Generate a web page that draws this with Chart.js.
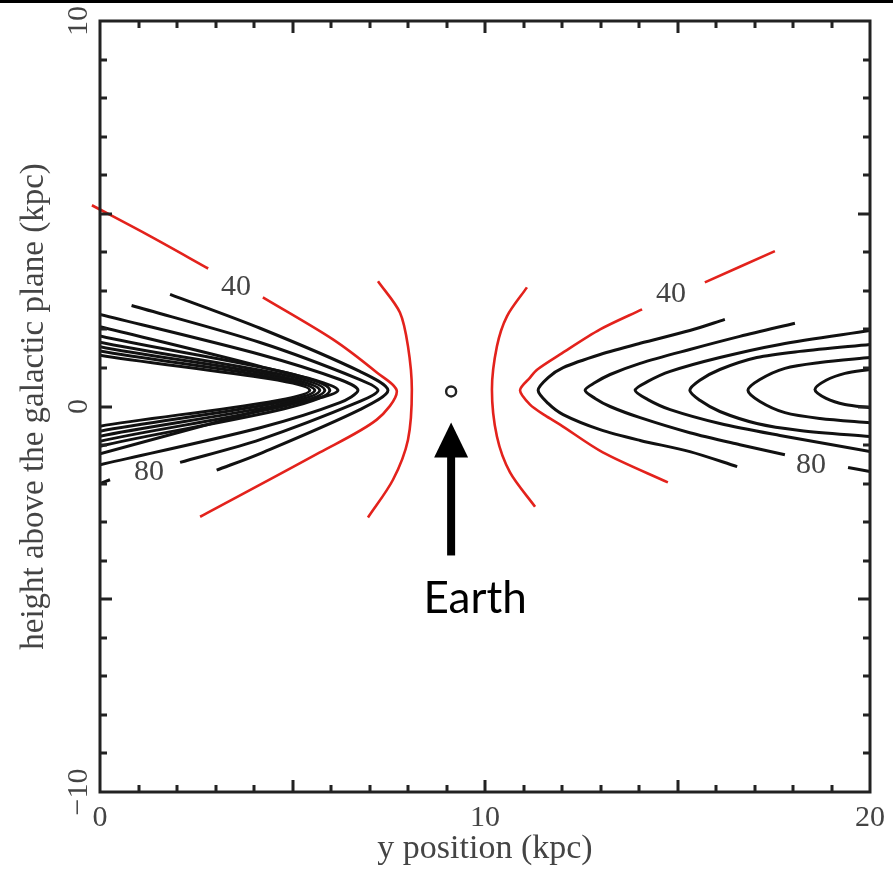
<!DOCTYPE html>
<html>
<head>
<meta charset="utf-8">
<script src="https://cdn.jsdelivr.net/npm/chart.js@4.4.1/dist/chart.umd.min.js"></script>
<style>
  html, body { margin: 0; padding: 0; background: #fff; }
  #wrap { position: relative; width: 893px; height: 869px; }
</style>
</head>
<body>
<div id="wrap"><canvas id="chart"></canvas></div>
<script>
// contours, points are [y position, height] in kpc
// a null is a break in the line where the level label sits

// red (40) contours
const red40Left = [[-0.21, 5.22], [1.30, 4.42], [2.81, 3.58], null, [4.23, 2.83], [6.05, 1.74], [7.19, 0.88],
  [7.71, 0.39], [7.19, -0.34], [5.71, -1.19], [2.60, -2.86]];
const redArcLeft = [[7.22, 3.25], [7.79, 2.44], [8.00, 1.56], [8.10, 0.44], [8.00, -0.86], [7.61, -1.90], [6.96, -2.88]];
const redArcRight = [[11.09, 3.09], [10.57, 2.34], [10.31, 1.56], [10.18, 0.44], [10.31, -0.78], [10.65, -1.71], [11.30, -2.60]];
const red40Right = [[17.53, 4.03], [15.71, 3.22], null, [14.08, 2.52], [12.99, 2.00], [11.95, 1.35], [11.36, 0.96],
  [11.17, 0.75], [10.91, 0.42], [11.17, 0.05], [11.56, -0.23], [11.95, -0.47], [13.06, -1.19], [14.75, -1.97]];

// black contours left of Earth, innermost first
const left1 = [[0, 1.33], [5.45, 0.42], [0, -0.51]];
const left2 = [[0, 1.44], [5.58, 0.42], [0, -0.64]];
const left3 = [[0, 1.55], [5.71, 0.42], [0, -0.77]];
const left4 = [[0, 1.67], [5.84, 0.42], [0, -0.90]];
const left5 = [[0, 1.83], [5.97, 0.42], [0, -1.03]];
const left6 = [[0, 2.07], [4.16, 1.04], [6.18, 0.42], [4.16, -0.10], [0, -1.23]];
const left7 = [[0, 2.39], [4.16, 1.35], [6.23, 0.70], [6.70, 0.42], [6.23, 0.10], [4.16, -0.55], [0, -1.51]];
const left8 = [[0.82, 2.62], [4.16, 1.66], [6.75, 0.70], [7.22, 0.42], [6.75, 0.13], [4.16, -0.86], [2.08, -1.45],
  null, [0.26, -1.90], [0, -2.00]];
const left9 = [[1.82, 2.91], [4.16, 2.03], [6.75, 0.91], [7.48, 0.42], [6.75, -0.08], [4.16, -1.22], [3.03, -1.65]];

// black contours right of Earth, outermost first
const right6 = [[16.23, 2.26], [15.32, 1.97], [14.03, 1.64], [12.99, 1.35], [12.03, 1.01], [11.64, 0.75], [11.38, 0.42],
  [11.64, 0.08], [12.03, -0.21], [12.99, -0.60], [14.03, -0.88], [15.32, -1.17], [16.55, -1.56]];
const right5 = [[18.05, 2.16], [16.62, 1.82], [15.32, 1.48], [14.03, 1.12], [13.25, 0.83], [12.86, 0.62], [12.60, 0.42],
  [12.86, 0.21], [13.25, 0.00], [14.03, -0.29], [15.32, -0.68], [16.62, -0.99], [17.79, -1.25], null,
  [19.43, -1.58], [20, -1.69]];
const right4 = [[20, 1.97], [17.66, 1.61], [16.10, 1.27], [14.81, 0.91], [14.23, 0.65], [13.90, 0.42],
  [14.23, 0.18], [14.81, -0.08], [16.10, -0.44], [17.66, -0.75], [20, -1.17]];
const right3 = [[20, 1.61], [18.18, 1.43], [17.06, 1.27], [16.10, 0.96], [15.58, 0.68], [15.32, 0.42],
  [15.58, 0.16], [16.10, -0.13], [17.06, -0.44], [18.18, -0.62], [20, -0.78]];
const right2 = [[20, 1.27], [18.70, 1.14], [17.79, 0.99], [17.14, 0.70], [16.83, 0.42], [17.14, 0.13],
  [17.79, -0.16], [18.70, -0.31], [20, -0.42]];
const right1 = [[20, 0.96], [19.35, 0.86], [18.86, 0.68], [18.57, 0.44], [18.86, 0.21], [19.35, 0.05], [20, -0.03]];

const earthPos = [9.12, 0.39];

// contour level labels
const levelText = ['40', '80', '40', '80'];
const levelX = [3.53, 1.27, 14.83, 18.47];
const levelY = [3.09, -1.71, 2.91, -1.53];

const yTickValues = [10, 0, -10];

const RED = '#e3221c';
const INK = '#111';
const TEXT = '#444';
const SERIF = '"Liberation Serif", "Times New Roman", serif';

function toPoints(arr) {
  return arr.map(p => p ? { x: p[0], y: p[1] } : { x: 0, y: null });
}

function contour(arr, color, width, extra) {
  return Object.assign({
    data: toPoints(arr),
    showLine: true,
    borderColor: color,
    borderWidth: width,
    pointRadius: 0,
    tension: 0.3,
    spanGaps: false,
    borderJoinStyle: 'round',
    borderCapStyle: 'butt'
  }, extra || {});
}

const blackLines = [left1, left2, left3, left4, left5, left6, left7, left8, left9,
  right1, right2, right3, right4, right5, right6];

const datasets = [
  contour(red40Left, RED, 2.6, { clip: false }),
  contour(redArcLeft, RED, 2.6),
  contour(redArcRight, RED, 2.6),
  contour(red40Right, RED, 2.6)
];
blackLines.forEach(l => datasets.push(contour(l, INK, 3)));
datasets.push({
  data: [{ x: earthPos[0], y: earthPos[1] }],
  showLine: false,
  pointRadius: 5,
  pointBorderWidth: 2.4,
  pointBorderColor: '#222',
  pointBackgroundColor: '#fff'
});

const framePlugin = {
  id: 'frame',
  afterDraw(chart) {
    const ctx = chart.ctx;
    const xs = chart.scales.x, ys = chart.scales.y;
    const { left, right, top, bottom } = chart.chartArea;
    ctx.save();

    // strip across the top of the figure
    ctx.fillStyle = '#000';
    ctx.fillRect(0, 0, chart.width, 3);

    // inward ticks on all four sides
    ctx.strokeStyle = '#222';
    ctx.lineWidth = 3;
    ctx.beginPath();
    for (let v = xs.min + 1; v < xs.max; v++) {
      const px = Math.round(xs.getPixelForValue(v));
      const len = v % 5 === 0 ? 12 : 7;
      ctx.moveTo(px, bottom); ctx.lineTo(px, bottom - len);
      ctx.moveTo(px, top); ctx.lineTo(px, top + len);
    }
    for (let v = ys.min + 1; v < ys.max; v++) {
      const py = Math.round(ys.getPixelForValue(v));
      const len = v % 5 === 0 ? 12 : 7;
      ctx.moveTo(left, py); ctx.lineTo(left + len, py);
      ctx.moveTo(right, py); ctx.lineTo(right - len, py);
    }
    ctx.stroke();
    ctx.strokeRect(left, top, right - left, bottom - top);

    // rotated y tick labels
    ctx.fillStyle = TEXT;
    ctx.font = '30px ' + SERIF;
    ctx.textAlign = 'center';
    ctx.textBaseline = 'middle';
    yTickValues.forEach(v => {
      ctx.save();
      ctx.translate(79, ys.getPixelForValue(v));
      ctx.rotate(-Math.PI / 2);
      ctx.fillText(v < 0 ? '\u2212' + Math.abs(v) : String(v), 0, 0);
      ctx.restore();
    });

    // contour level labels
    ctx.font = '30px ' + SERIF;
    levelText.forEach((t, i) => {
      ctx.fillText(t, xs.getPixelForValue(levelX[i]), ys.getPixelForValue(levelY[i]));
    });

    // arrow pointing at Earth
    const ex = xs.getPixelForValue(earthPos[0]);
    const ey = ys.getPixelForValue(earthPos[1]);
    ctx.fillStyle = '#000';
    ctx.fillRect(ex - 4, ey + 60, 8, 104);
    ctx.beginPath();
    ctx.moveTo(ex, ey + 31);
    ctx.lineTo(ex + 17, ey + 66);
    ctx.lineTo(ex - 17, ey + 66);
    ctx.closePath();
    ctx.fill();

    ctx.font = '44px Lato, "Open Sans", sans-serif';
    ctx.fillText('Earth', ex + 24, ey + 207);
    ctx.restore();
  }
};

new Chart(document.getElementById('chart'), {
  type: 'scatter',
  data: { datasets },
  plugins: [framePlugin],
  options: {
    responsive: true,
    maintainAspectRatio: false,
    animation: false,
    devicePixelRatio: 1,
    layout: { padding: { left: 0, right: 23, top: 21, bottom: 0 } },
    plugins: { legend: { display: false }, tooltip: { enabled: false } },
    scales: {
      x: {
        type: 'linear',
        min: 0,
        max: 20,
        grid: { display: false },
        border: { display: false },
        ticks: {
          stepSize: 10,
          autoSkip: false,
          maxRotation: 0,
          padding: 0,
          color: TEXT,
          font: { family: SERIF, size: 30 }
        },
        title: {
          display: true,
          text: 'y position (kpc)',
          color: TEXT,
          font: { family: SERIF, size: 34 },
          padding: { top: 0, bottom: 0 }
        },
        afterFit(scale) { scale.height = 77; }
      },
      y: {
        type: 'linear',
        min: -10,
        max: 10,
        grid: { display: false },
        border: { display: false },
        ticks: { display: false },
        title: {
          display: true,
          text: 'height above the galactic plane (kpc)',
          color: TEXT,
          font: { family: SERIF, size: 33 },
          padding: { top: 15, bottom: 0 }
        },
        afterFit(scale) { scale.width = 100; }
      }
    }
  }
});
</script>
</body>
</html>
